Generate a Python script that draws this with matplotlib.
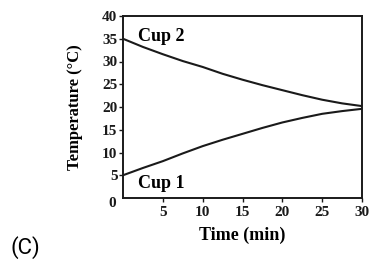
import matplotlib
matplotlib.use("Agg")
from matplotlib import pyplot as plt

# values
time = [0, 2.5, 5, 7.5, 10, 12.5, 15, 17.5, 20, 22.5, 25, 27.5, 30]
cup1 = [5, 6.6, 8.1, 9.8, 11.4, 12.8, 14.1, 15.4, 16.6, 17.6, 18.5, 19.1, 19.6]
cup2 = [35, 33.2, 31.6, 30.1, 28.8, 27.3, 26.0, 24.8, 23.7, 22.6, 21.6, 20.8, 20.2]
xticks = [5, 10, 15, 20, 25, 30]
yticks = [5, 10, 15, 20, 25, 30, 35, 40]
origin_label = '0'

serif = ['Liberation Serif', 'DejaVu Serif']

fig = plt.figure(figsize=(3.69, 2.63), dpi=100)
ax = fig.add_axes([123/369, 1-198/263, (362-123)/369, (198-16)/263])

ax.plot(time, cup2, c='#1a1a1a', lw=1.5)
ax.plot(time, cup1, c='#1a1a1a', lw=1.5)
ax.set_xlim(0, 30)
ax.set_ylim(0, 40)
ax.set_xticks(xticks)
ax.set_yticks(yticks)
for sp in ax.spines.values():
    sp.set_linewidth(1.4)
    sp.set_color('#1a1a1a')
ax.tick_params(length=3, width=1, colors='#1a1a1a')
ax.tick_params(axis='x', pad=3)
ax.tick_params(axis='y', pad=1)
for lab in ax.get_xticklabels() + ax.get_yticklabels():
    lab.set_family(serif)
    lab.set_fontweight('bold')
    lab.set_fontsize(11)
ax.text(-0.9, -1.3, origin_label, family=serif, weight='bold', fontsize=11,
        ha='right', va='center', color='#1a1a1a')

ax.text(1.9, 35.6, 'Cup 2', family=serif, weight='bold', fontsize=13, va='center')
ax.text(1.9, 3.2, 'Cup 1', family=serif, weight='bold', fontsize=13, va='center')

ax.set_xlabel('Time (min)', family=serif, weight='bold', fontsize=13, labelpad=5)
ax.set_ylabel('Temperature (°C)', family=serif, weight='bold', fontsize=12, labelpad=14)

fig.text(10/369, 1-248/263, '(C)', family=['Roboto', 'DejaVu Sans'], fontsize=16, va='center')

fig.savefig('out.png', dpi=100)
